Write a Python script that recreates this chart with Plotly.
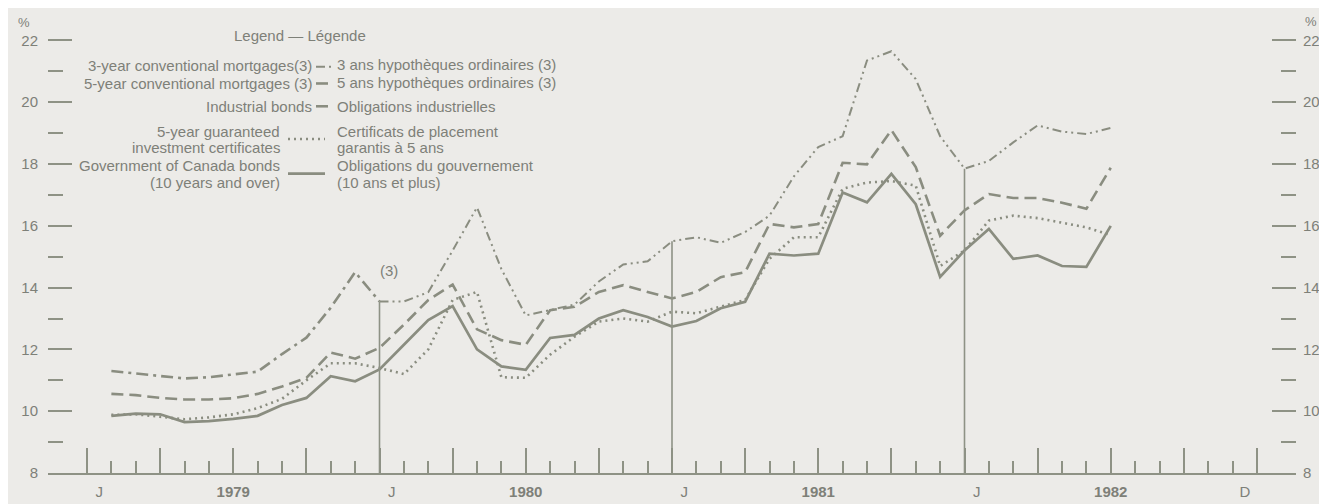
import plotly.graph_objects as go

# ---------------- data (month-end index, 1 = end of Jan 1979) ----------------
month_index = list(range(1, 43))

gov_bonds = [9.85, 9.92, 9.90, 9.65, 9.68, 9.75, 9.85, 10.20, 10.43, 11.13, 10.97, 11.35,
             12.15, 12.95, 13.40, 12.00, 11.45, 11.34, 12.37, 12.47, 13.00, 13.27, 13.05, 12.74,
             12.92, 13.33, 13.54, 15.10, 15.04, 15.10, 17.08, 16.76, 17.68, 16.70, 14.35, 15.20,
             15.90, 14.93, 15.04, 14.70, 14.67, 16.00]

industrial_bonds = [10.56, 10.52, 10.43, 10.38, 10.38, 10.42, 10.56, 10.80, 11.08, 11.90, 11.70, 12.05,
                    12.80, 13.60, 14.10, 12.65, 12.30, 12.15, 13.27, 13.38, 13.86, 14.08, 13.86, 13.65,
                    13.86, 14.34, 14.50, 16.06, 15.95, 16.06, 18.04, 17.99, 19.10, 17.90, 15.68, 16.50,
                    17.03, 16.90, 16.90, 16.75, 16.55, 17.88]

gic_5yr = [9.88, 9.90, 9.82, 9.74, 9.80, 9.90, 10.10, 10.40, 11.00, 11.55, 11.55, 11.40,
           11.20, 12.00, 13.60, 13.86, 11.10, 11.08, 11.83, 12.41, 12.90, 13.00, 12.90, 13.22,
           13.17, 13.38, 13.60, 14.93, 15.63, 15.63, 17.20, 17.40, 17.45, 17.30, 14.70, 15.20,
           16.17, 16.33, 16.25, 16.10, 15.95, 15.70]

mort5_index = list(range(1, 13))
mortgage_5yr = [11.30, 11.22, 11.12, 11.06, 11.10, 11.18, 11.28, 11.85, 12.38, 13.35, 14.50, 13.55]

mort3_index = list(range(12, 43))
mortgage_3yr = [13.55, 13.55, 13.85, 15.20, 16.60, 14.60, 13.10, 13.27, 13.45, 14.20, 14.75, 14.85,
                15.50, 15.63, 15.45, 15.80, 16.33, 17.60, 18.55, 18.90, 21.35, 21.65, 20.75, 18.90,
                17.85, 18.10, 18.70, 19.25, 19.05, 18.97, 19.17]

year_boundaries = [12, 24, 36]
y_major = [8, 10, 12, 14, 16, 18, 20, 22]
y_minor = [9, 11, 13, 15, 17, 19, 21]
x_major = list(range(0, 49, 3))
x_minor = [m for m in range(1, 48) if m % 3 != 0]
x_label_pos = [0.5, 6, 12.5, 18, 24.5, 30, 36.5, 42, 47.5]
x_label_text = ["J", "<b>1979</b>", "J", "<b>1980</b>", "J", "<b>1981</b>", "J", "<b>1982</b>", "D"]

# ---------------- styling ----------------
W, H = 1327, 504
ML, MR, MT, MB = 40, 39, 17, 35
XR = [-1.6, 49.6]
YR = [8, 22.5]
BG = "#ecebe8"
LC = "#8a8d80"
AC = "#8e9285"
TC = "#7e8078"
FONT = "Liberation Sans"

STYLE = {
    "gov": dict(color=LC, width=2.7),
    "ind": dict(color=LC, width=2.6, dash="12px,6px"),
    "gic": dict(color=LC, width=2.6, dash="2px,4px"),
    "m5": dict(color=LC, width=2.6, dash="12px,5px,3px,5px"),
    "m3": dict(color=LC, width=2.0, dash="9px,4px,2px,4px,2px,4px"),
}

PW = W - ML - MR
PH = H - MT - MB


def px(x):
    return (x - ML) / PW


def py(y):
    return (H - MB - y) / PH


fig = go.Figure()
fig.add_trace(go.Scatter(x=mort5_index, y=mortgage_5yr, mode="lines", line=STYLE["m5"]))
fig.add_trace(go.Scatter(x=mort3_index, y=mortgage_3yr, mode="lines", line=STYLE["m3"]))
fig.add_trace(go.Scatter(x=month_index, y=industrial_bonds, mode="lines", line=STYLE["ind"]))
fig.add_trace(go.Scatter(x=month_index, y=gic_5yr, mode="lines", line=STYLE["gic"]))
fig.add_trace(go.Scatter(x=month_index, y=gov_bonds, mode="lines", line=STYLE["gov"]))
# anchors for the overlay axes
for xa, ya in (("x2", "y"), ("x3", "y"), ("x", "y2")):
    fig.add_trace(go.Scatter(x=[XR[0]], y=[YR[0]], mode="markers", marker=dict(opacity=0),
                             xaxis=xa, yaxis=ya, hoverinfo="skip"))

shapes = []
# year-boundary vertical lines, from the baseline up to the mortgage series
for b in year_boundaries:
    top = mortgage_3yr[mort3_index.index(b)]
    shapes.append(dict(type="line", xref="x", yref="y", x0=b, x1=b, y0=YR[0], y1=top,
                       line=dict(color=AC, width=1.6)))

annotations = []


def text(x, y, s, anchor="left", size=15):
    annotations.append(dict(xref="paper", yref="paper", x=px(x), y=py(y), text=s,
                            showarrow=False, xanchor=anchor, yanchor="middle",
                            font=dict(family=FONT, size=size, color=TC)))


def sample(x0, x1, y, style):
    shapes.append(dict(type="line", xref="paper", yref="paper", x0=px(x0), x1=px(x1),
                       y0=py(y), y1=py(y), line=dict(style)))


# legend
text(292, 28, "Legend — Légende", anchor="center", size=15)
EN1, FR = 306, 327
text(EN1, 58, "3-year conventional mortgages(3)", "right")
sample(308, 325, 59, STYLE["m3"])
text(FR, 57, "3 ans hypothèques ordinaires (3)")
text(EN1, 76, "5-year conventional mortgages (3)", "right")
sample(308, 325, 76, STYLE["m5"])
text(FR, 75, "5 ans hypothèques ordinaires (3)")
text(EN1, 99, "Industrial bonds", "right")
sample(308, 325, 99, STYLE["ind"])
text(FR, 99, "Obligations industrielles")
EN2 = 274
text(EN2, 124, "5-year guaranteed", "right")
text(EN2, 141, "investment certificates", "right")
sample(280, 317, 132, STYLE["gic"])
text(FR, 124, "Certificats de placement")
text(FR, 141, "garantis à 5 ans")
text(EN2, 159, "Government of Canada bonds", "right")
text(EN2, 176, "(10 years and over)", "right")
sample(280, 317, 167, STYLE["gov"])
text(FR, 159, "Obligations du gouvernement")
text(FR, 176, "(10 ans et plus)")

# percent signs
text(16, 14, "%", "center", 13)
text(1303, 13, "%", "center", 13)

# footnote marker on chart
annotations.append(dict(xref="x", yref="y", x=12.4, y=14.55, text="(3)", showarrow=False,
                        font=dict(family=FONT, size=15, color=TC)))


def y_axis(side, standoff):
    return dict(side=side, anchor="x", range=YR, tickmode="array", tickvals=y_major,
                ticks="inside", ticklen=24, tickwidth=2, tickcolor=AC, showline=False,
                showgrid=False, zeroline=False,
                tickfont=dict(family=FONT, size=15, color=TC), ticklabelstandoff=standoff,
                minor=dict(tickmode="array", tickvals=y_minor, ticks="inside", ticklen=15,
                           tickwidth=2, tickcolor=AC, showgrid=False),
                fixedrange=True)


yaxis_right = y_axis("right", 6)
yaxis_right["overlaying"] = "y"

fig.update_layout(
    width=W, height=H,
    margin=dict(l=ML, r=MR, t=MT, b=MB),
    paper_bgcolor=BG, plot_bgcolor=BG,
    showlegend=False,
    font=dict(family=FONT, color=TC),
    xaxis=dict(range=XR, showline=True, linecolor=AC, linewidth=2, tickmode="array",
               tickvals=x_minor, ticks="inside", ticklen=12, tickwidth=2, tickcolor=AC,
               showticklabels=False, showgrid=False, zeroline=False, fixedrange=True),
    xaxis2=dict(overlaying="x", anchor="y", side="bottom", range=XR, tickmode="array",
                tickvals=x_major, ticks="inside", ticklen=25, tickwidth=2, tickcolor=AC,
                showticklabels=False, showgrid=False, zeroline=False, showline=False,
                fixedrange=True),
    xaxis3=dict(overlaying="x", anchor="y", side="bottom", range=XR, tickmode="array",
                tickvals=x_label_pos, ticktext=x_label_text, ticks="", showgrid=False,
                zeroline=False, showline=False, ticklabelstandoff=8,
                tickfont=dict(family=FONT, size=15, color=TC), fixedrange=True),
    yaxis=y_axis("left", 9),
    yaxis2=yaxis_right,
    shapes=shapes,
    annotations=annotations,
)

fig.write_html("out.html", config={"displayModeBar": False})
